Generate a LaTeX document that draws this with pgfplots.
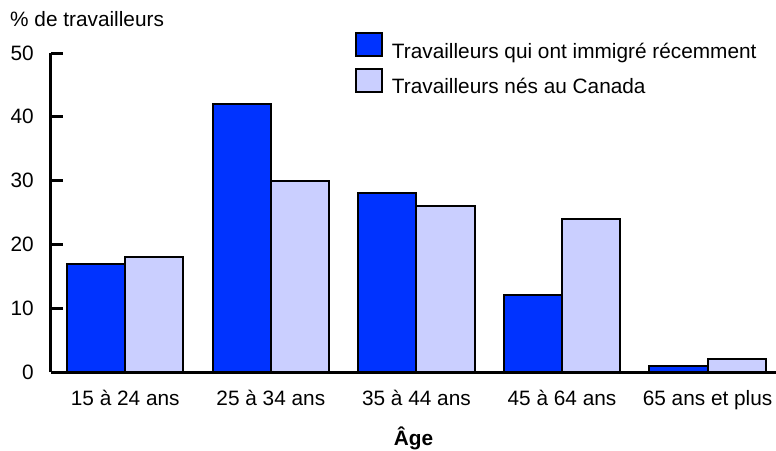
\documentclass[border=0pt]{standalone}
\usepackage{pgfplots}
\pgfplotsset{compat=1.18}
\usepackage{fontspec}
\setmainfont{Liberation Sans}
\definecolor{darkb}{RGB}{0,51,255}
\definecolor{lightb}{RGB}{202,207,255}
\newcommand{\chartfont}{\fontsize{20.8}{24}\selectfont}
\begin{document}
\begin{tikzpicture}[x=1pt,y=1pt]
\useasboundingbox (0,0) rectangle (776,450);
\begin{axis}[
  at={(51pt,78pt)}, anchor=south west,
  scale only axis, width=725pt, height=319pt,
  xmin=-0.51, xmax=4.47, ymin=0, ymax=50,
  axis x line*=bottom, axis y line*=left,
  axis line style={line width=3pt, -},
  xtick={0,1,2,3,4},
  xticklabels={15 à 24 ans,25 à 34 ans,35 à 44 ans,45 à 64 ans,65 ans et plus},
  x tick style={draw=none},
  ytick={0,10,20,30,40,50},
  y tick style={line width=3pt, black},
  tick align=inside, major tick length=12pt,
  /pgf/number format/assume math mode=true,
  tick label style={font=\chartfont},
  xticklabel style={anchor=base, yshift=-21pt, inner sep=0pt},
  yticklabel style={anchor=east, xshift=-17pt, inner sep=0pt},
  xlabel={\textbf{Âge}},
  xlabel style={font=\chartfont, at={(axis description cs:0.5,0)}, anchor=base, yshift=-73pt, inner sep=0pt},
  ybar, bar width=0.4,
  legend style={draw=none, fill=none, font=\chartfont, at={(rel axis cs:0.419,1.066)}, anchor=north west, inner sep=0pt, row sep=8pt, nodes={inner sep=0pt}},
  legend cell align=left,
  legend image code/.code={\draw[#1, line width=2pt] (0pt,-5pt) rectangle (26pt,18pt); \path[draw=none, fill=none] (0pt,0pt) -- (36pt,0pt);},
  clip=false,
]
\addplot[draw=black, line width=2pt, fill=darkb, bar shift=-0.2] coordinates {(0,17) (1,42) (2,28) (3,12) (4,1)};
\addplot[draw=black, line width=2pt, fill=lightb, bar shift=0.2] coordinates {(0,18) (1,30) (2,26) (3,24) (4,2)};
\legend{Travailleurs qui ont immigré récemment, Travailleurs nés au Canada}
\end{axis}
\node[anchor=base west, inner sep=0pt, font=\chartfont] at (10,423) {\% de travailleurs};
\end{tikzpicture}
\end{document}
